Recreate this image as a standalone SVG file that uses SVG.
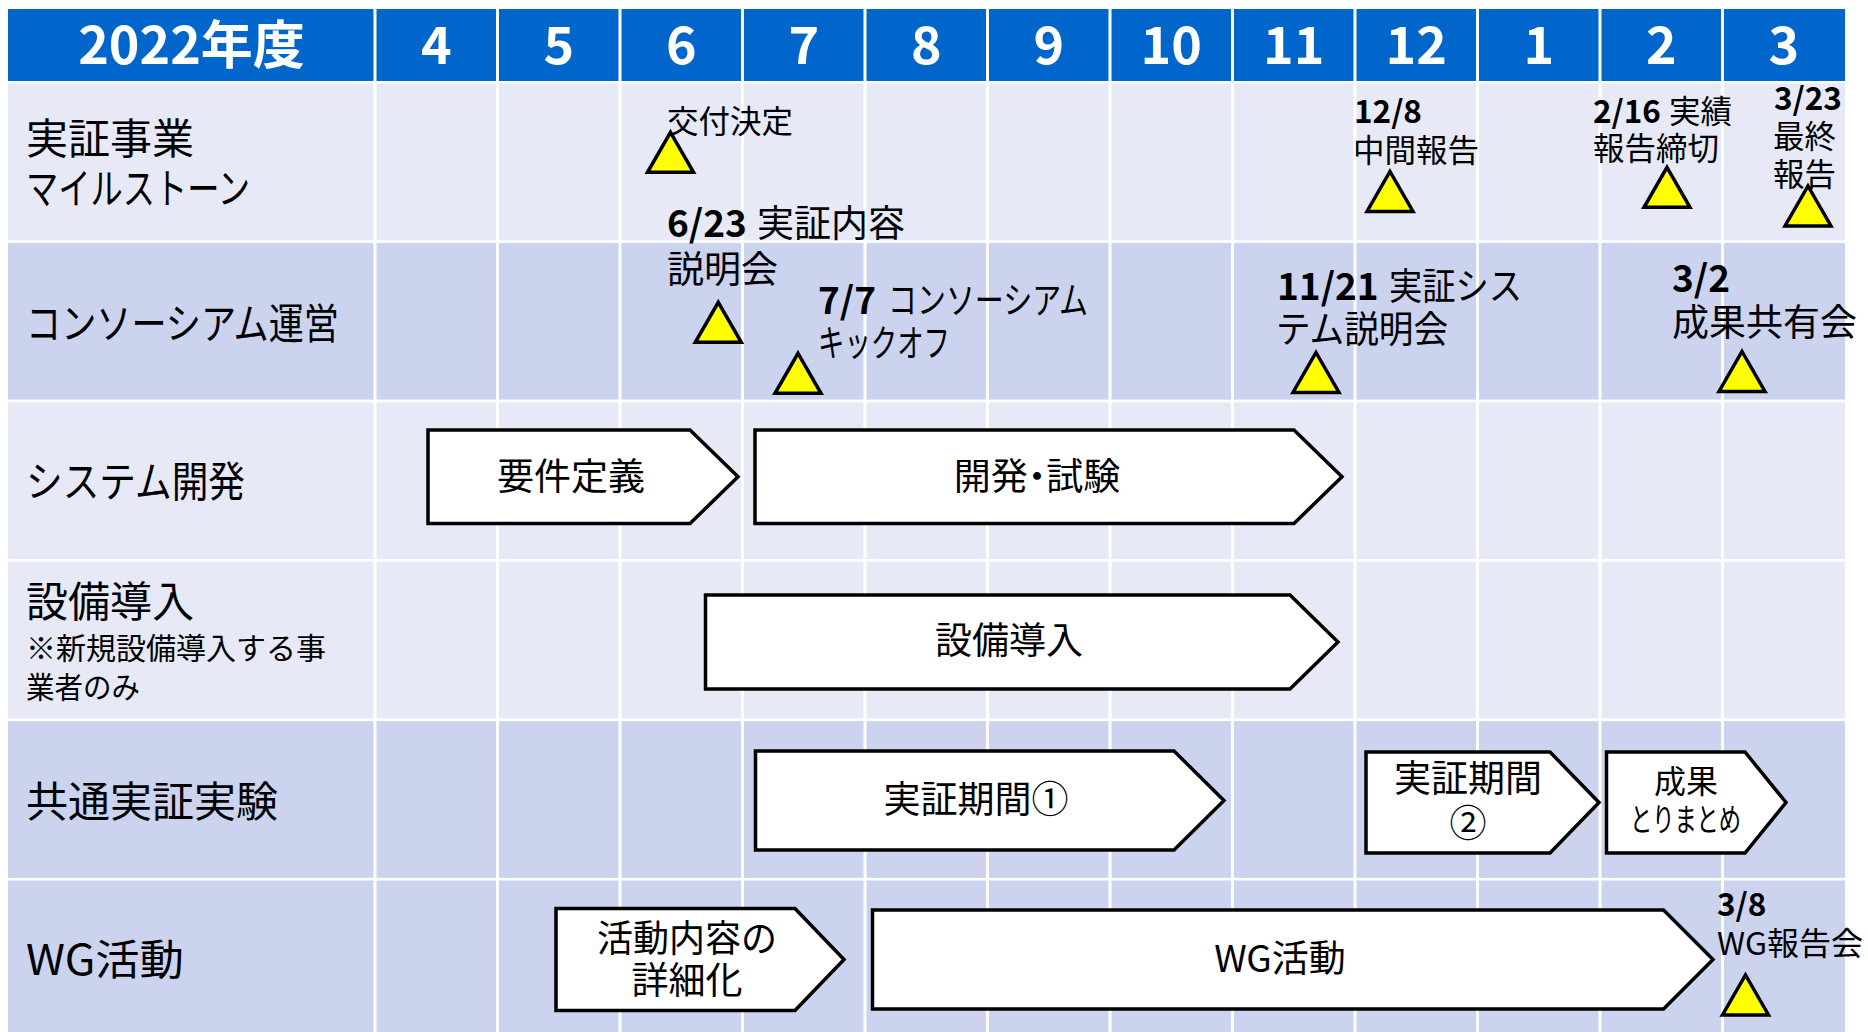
<svg xmlns="http://www.w3.org/2000/svg" xmlns:xlink="http://www.w3.org/1999/xlink" width="1868" height="1032" viewBox="0 0 1868 1032">
<style>
text{font-family:"Noto Sans CJK JP","Noto Sans",sans-serif;fill:#000}
.hdr{fill:#fff;font-weight:bold;font-size:52px;text-anchor:middle}
.lbl{font-size:42px}
.sub{font-size:30px}
.m1{font-size:31.5px}
.m2{font-size:37px}
.bar{font-size:37px;text-anchor:middle}
.bar2{font-size:32px;text-anchor:middle}
.palt{font-feature-settings:"palt" 1}
.b{font-weight:bold}
.light{fill:#E7EAF6}
.dark{fill:#CCD3EE}
.sep{stroke:#fff;stroke-width:3}
.chev{fill:#fff;stroke:#000;stroke-width:3.5;stroke-linejoin:miter}
.tri{fill:#FFFF00;stroke:#000;stroke-width:3.5;stroke-linejoin:miter}
</style>
<defs>
<path id="tri" d="M0,-40 L23,0 L-23,0 Z"/>
</defs>
<rect width="1868" height="1032" fill="#fff"/>
<g id="grid">
<rect x="8" y="9" width="1837" height="72" fill="#0066CC"/>
<rect class="light" x="8" y="83.5" width="1837" height="156.7"/>
<rect class="dark" x="8" y="242.9" width="1837" height="156.7"/>
<rect class="light" x="8" y="402.3" width="1837" height="156.7"/>
<rect class="light" x="8" y="561.7" width="1837" height="156.7"/>
<rect class="dark" x="8" y="721.1" width="1837" height="156.7"/>
<rect class="dark" x="8" y="880.5" width="1837" height="160"/>
<g class="sep">
<line x1="375" y1="9" x2="375" y2="1032"/>
<line x1="497.5" y1="9" x2="497.5" y2="1032"/>
<line x1="620" y1="9" x2="620" y2="1032"/>
<line x1="742.5" y1="9" x2="742.5" y2="1032"/>
<line x1="865" y1="9" x2="865" y2="1032"/>
<line x1="987.5" y1="9" x2="987.5" y2="1032"/>
<line x1="1110" y1="9" x2="1110" y2="1032"/>
<line x1="1232.5" y1="9" x2="1232.5" y2="1032"/>
<line x1="1355" y1="9" x2="1355" y2="1032"/>
<line x1="1477.5" y1="9" x2="1477.5" y2="1032"/>
<line x1="1600" y1="9" x2="1600" y2="1032"/>
<line x1="1722.5" y1="9" x2="1722.5" y2="1032"/>
</g>
</g>
<g id="header">
<text class="hdr" x="191.5" y="64">2022年度</text>
<text class="hdr" x="436.25" y="64">4</text>
<text class="hdr" x="558.75" y="64">5</text>
<text class="hdr" x="681.25" y="64">6</text>
<text class="hdr" x="803.75" y="64">7</text>
<text class="hdr" x="926.25" y="64">8</text>
<text class="hdr" x="1048.75" y="64">9</text>
<text class="hdr" x="1171.25" y="64">10</text>
<text class="hdr" x="1293.75" y="64">11</text>
<text class="hdr" x="1416.25" y="64">12</text>
<text class="hdr" x="1538.75" y="64">1</text>
<text class="hdr" x="1661.25" y="64">2</text>
<text class="hdr" x="1783.75" y="64">3</text>
</g>
<g id="row-labels">
<text class="lbl" x="26" y="154">実証事業</text>
<text class="lbl" x="26" y="204" textLength="224" lengthAdjust="spacingAndGlyphs">マイルストーン</text>
<text class="lbl" x="26" y="339" textLength="313" lengthAdjust="spacingAndGlyphs">コンソーシアム運営</text>
<text class="lbl" x="26" y="497" textLength="219" lengthAdjust="spacingAndGlyphs">システム開発</text>
<text class="lbl" x="26" y="617">設備導入</text>
<text class="sub" x="26" y="659">※新規設備導入する事</text>
<text class="sub" x="26" y="698" textLength="114" lengthAdjust="spacingAndGlyphs">業者のみ</text>
<text class="lbl" x="26" y="817">共通実証実験</text>
<text class="lbl" x="26" y="975" textLength="158" lengthAdjust="spacingAndGlyphs">WG活動</text>
</g>
<g id="connectors"></g>
<g id="bar-requirements">
<polygon class="chev" points="428,430 690,430 738,476.75 690,523.5 428,523.5"/>
<text class="bar" x="571" y="490">要件定義</text>
</g>
<g id="bar-dev-test">
<polygon class="chev" points="755,430 1294,430 1342,476.75 1294,523.5 755,523.5"/>
<text class="bar palt" x="1037" y="490">開発・試験</text>
</g>
<g id="bar-equipment">
<polygon class="chev" points="705.5,595 1290,595 1338,642 1290,689 705.5,689"/>
<text class="bar" x="1009" y="654">設備導入</text>
</g>
<g id="bar-period1">
<polygon class="chev" points="755.5,751 1174,751 1224,800.5 1174,850 755.5,850"/>
<text class="bar" x="976" y="813">実証期間①</text>
</g>
<g id="bar-period2">
<polygon class="chev" points="1366,752 1550,752 1599,802.5 1550,853 1366,853"/>
<text class="bar" x="1468" y="792">実証期間</text>
<text class="bar" x="1468" y="837">②</text>
</g>
<g id="bar-results">
<polygon class="chev" points="1606.5,752 1745,752 1786,802.5 1745,853 1606.5,853"/>
<text class="bar2" x="1686" y="793">成果</text>
<text class="bar2" x="1630" y="831" style="text-anchor:start" textLength="111" lengthAdjust="spacingAndGlyphs">とりまとめ</text>
</g>
<g id="bar-wg-detail">
<polygon class="chev" points="556,908.5 795,908.5 844,959.5 795,1010.5 556,1010.5"/>
<text class="bar" x="597" y="952" style="text-anchor:start" textLength="180" lengthAdjust="spacingAndGlyphs">活動内容の</text>
<text class="bar" x="687" y="994">詳細化</text>
</g>
<g id="bar-wg">
<polygon class="chev" points="872.5,910 1663.5,910 1713,959.5 1663.5,1009 872.5,1009"/>
<text class="bar" x="1280" y="972">WG活動</text>
</g>
<g id="ms-grant">
<use xlink:href="#tri" class="tri" x="670.5" y="172.3"/>
<text class="m1" x="667" y="133">交付決定</text>
</g>
<g id="ms-interim">
<use xlink:href="#tri" class="tri" x="1390" y="211.5"/>
<text class="m1 b" x="1354" y="123">12/8</text>
<text class="m1" x="1353" y="162">中間報告</text>
</g>
<g id="ms-deadline">
<use xlink:href="#tri" class="tri" x="1667" y="207.3"/>
<text class="m1 b" x="1593" y="123">2/16</text>
<text class="m1" x="1669" y="123">実績</text>
<text class="m1" x="1593" y="160">報告締切</text>
</g>
<g id="ms-final">
<use xlink:href="#tri" class="tri" x="1808" y="226"/>
<text class="m1 b" x="1774" y="110">3/23</text>
<text class="m1" x="1773" y="148">最終</text>
<text class="m1" x="1773" y="186">報告</text>
</g>
<g id="ms-briefing">
<use xlink:href="#tri" class="tri" x="718.3" y="342.3"/>
<text class="m2 b" x="667" y="237">6/23</text>
<text class="m2" x="757" y="237">実証内容</text>
<text class="m2" x="667" y="283">説明会</text>
</g>
<g id="ms-kickoff">
<use xlink:href="#tri" class="tri" x="798" y="393.3"/>
<text class="m2 b" x="818" y="314">7/7</text>
<text class="m2" x="888" y="314" textLength="200" lengthAdjust="spacingAndGlyphs">コンソーシアム</text>
<text class="m2" x="818" y="357" textLength="132" lengthAdjust="spacingAndGlyphs">キックオフ</text>
</g>
<g id="ms-system-briefing">
<use xlink:href="#tri" class="tri" x="1316" y="392.5"/>
<text class="m2 b" x="1277" y="300">11/21</text>
<text class="m2" x="1389" y="300" textLength="133" lengthAdjust="spacingAndGlyphs">実証シス</text>
<text class="m2" x="1276" y="343" textLength="172" lengthAdjust="spacingAndGlyphs">テム説明会</text>
</g>
<g id="ms-sharing">
<use xlink:href="#tri" class="tri" x="1742" y="391.5"/>
<text class="m2 b" x="1672" y="292">3/2</text>
<text class="m2" x="1672" y="336">成果共有会</text>
</g>
<g id="ms-wg-report">
<use xlink:href="#tri" class="tri" x="1745.5" y="1015"/>
<text class="m1 b" x="1717" y="916">3/8</text>
<text class="m1" x="1717" y="955" textLength="146" lengthAdjust="spacingAndGlyphs">WG報告会</text>
</g>
</svg>
